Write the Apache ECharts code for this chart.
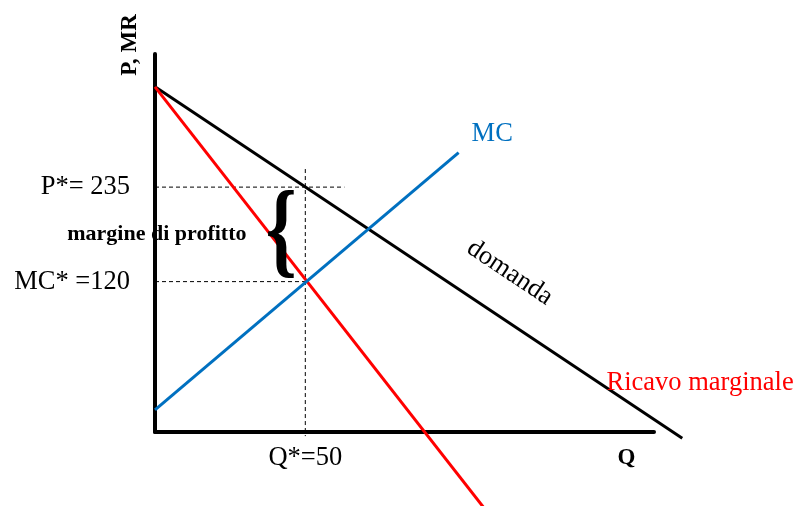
<!DOCTYPE html>
<html>
<head>
<meta charset="utf-8">
<script src="https://cdn.jsdelivr.net/npm/echarts@6/dist/echarts.min.js"></script>
<style>
	html, body { margin: 0; padding: 0; background: #fff; }
	#chart { width: 805px; height: 506px; }
</style>
</head>
<body>
<div id="chart"></div>
<script>
// punti delle curve (Q, P)
var domanda = [[0, 357], [175.4, -70.5]];
var ricavoMarginale = [[0, 357], [110, -158]];
var costoMarginale = [[0, -36], [101, 277]];

// valori di equilibrio
var qStar = 50;
var pStar = 235;
var mcStar = 120;
var keyQ = [qStar];
var keyP = [pStar, mcStar];
var pLabels = ['P*= ' + pStar, 'MC* =' + mcStar];
var qLabels = ['Q*=' + qStar];

// linee tratteggiate
var guideP = [[0, pStar], [63, pStar]];
var guideMC = [[0, mcStar], [qStar, mcStar]];
var guideQ = [[qStar, 257], [qStar, -68]];

// estensione degli assi
var qAxisMax = 166;   // dove finisce l'asse Q disegnato
var qPlotMax = 176;   // spazio per la curva di domanda oltre l'asse
var pMin = -63;
var pMax = 397;

var serif = '"Liberation Serif", "Times New Roman", serif';
var pxPerQ = 499 / qAxisMax;

var chart = echarts.init(document.getElementById('chart'));

function dashed(data) {
	return {
		type: 'line',
		xAxisIndex: 1,
		yAxisIndex: 1,
		data: data,
		symbol: 'none',
		clip: false,
		silent: true,
		z: 1,
		lineStyle: { color: '#000', width: 1, type: [4, 3] }
	};
}

function curve(name, data, color) {
	return {
		name: name,
		type: 'line',
		xAxisIndex: 1,
		yAxisIndex: 1,
		data: data,
		symbol: 'none',
		clip: false,
		z: 3,
		lineStyle: { color: color, width: 3 }
	};
}

var hiddenAxis = {
	show: true,
	axisLine: { show: false },
	axisTick: { show: false },
	axisLabel: { show: false },
	splitLine: { show: false }
};

chart.setOption({
	animation: false,
	backgroundColor: '#fff',
	grid: [
		// griglia degli assi visibili
		{ left: 155, right: 151, top: 54, bottom: 74 },
		// griglia delle curve, piu' larga verso destra
		{ left: 155, right: 805 - 155 - qPlotMax * pxPerQ, top: 54, bottom: 74 }
	],
	xAxis: [{
		gridIndex: 0,
		type: 'value',
		min: 0,
		max: qAxisMax,
		splitLine: { show: false },
		axisTick: { show: false },
		axisLine: { onZero: false, lineStyle: { color: '#000', width: 4 } },
		axisLabel: {
			customValues: keyQ,
			margin: 13,
			color: '#000',
			fontFamily: serif,
			fontSize: 26.5,
			formatter: function (v) {
				return qLabels[keyQ.indexOf(v)];
			}
		}
	}, Object.assign({ gridIndex: 1, type: 'value', min: 0, max: qPlotMax }, hiddenAxis)],
	yAxis: [{
		gridIndex: 0,
		type: 'value',
		min: pMin,
		max: pMax,
		splitLine: { show: false },
		axisTick: { show: false },
		axisLine: { onZero: false, lineStyle: { color: '#000', width: 4 } },
		axisLabel: {
			customValues: keyP,
			margin: 25,
			color: '#000',
			fontFamily: serif,
			fontSize: 26.5,
			formatter: function (v) {
				return pLabels[keyP.indexOf(v)];
			}
		}
	}, Object.assign({ gridIndex: 1, type: 'value', min: pMin, max: pMax }, hiddenAxis)],
	series: [
		dashed(guideP),
		dashed(guideMC),
		dashed(guideQ),
		curve('domanda', domanda, '#000'),
		curve('Ricavo marginale', ricavoMarginale, '#ff0000'),
		curve('MC', costoMarginale, '#0070c0')
	]
});

// testi posizionati sulle coordinate del grafico
function px(q, p) {
	return chart.convertToPixel({ gridIndex: 1 }, [q, p]);
}

function label(text, at, opts) {
	var pt = px(at[0], at[1]);
	return {
		type: 'text',
		x: pt[0] + (opts.dx || 0),
		y: pt[1] + (opts.dy || 0),
		rotation: opts.rotation || 0,
		scaleX: opts.scaleX || 1,
		z: 10,
		style: {
			text: text,
			fill: opts.color || '#000',
			font: (opts.weight || 'normal') + ' ' + opts.size + 'px ' + serif,
			align: opts.align || 'center',
			textAlign: opts.align || 'center',
			verticalAlign: 'middle',
			textVerticalAlign: 'middle'
		}
	};
}

var d0 = px(domanda[0][0], domanda[0][1]);
var d1 = px(domanda[1][0], domanda[1][1]);
var angle = Math.atan2(d1[1] - d0[1], d1[0] - d0[0]);

chart.setOption({
	graphic: [
		label('P, MR', [-8.3, 408], { size: 23, weight: 'bold', rotation: Math.PI / 2 }),
		label('Q', [156.8, -94.5], { size: 23, weight: 'bold' }),
		label('MC', costoMarginale[1], { size: 26.5, color: '#0070c0', align: 'left', dx: 13, dy: -19 }),
		label('domanda', [118, 70], { size: 26.5, rotation: -angle, dy: -50 }),
		label('Ricavo marginale', [150.2, -3.5], { size: 26.5, color: '#ff0000', align: 'left' }),
		label('margine di profitto', [-29.2, 178], { size: 22, weight: 'bold', align: 'left' }),
		label('{', [42, (pStar + mcStar) / 2], { size: 106, weight: 'bold', scaleX: 0.75, dy: 2 })
	]
});

window.onresize = function () {
	chart.resize();
};
</script>
</body>
</html>
